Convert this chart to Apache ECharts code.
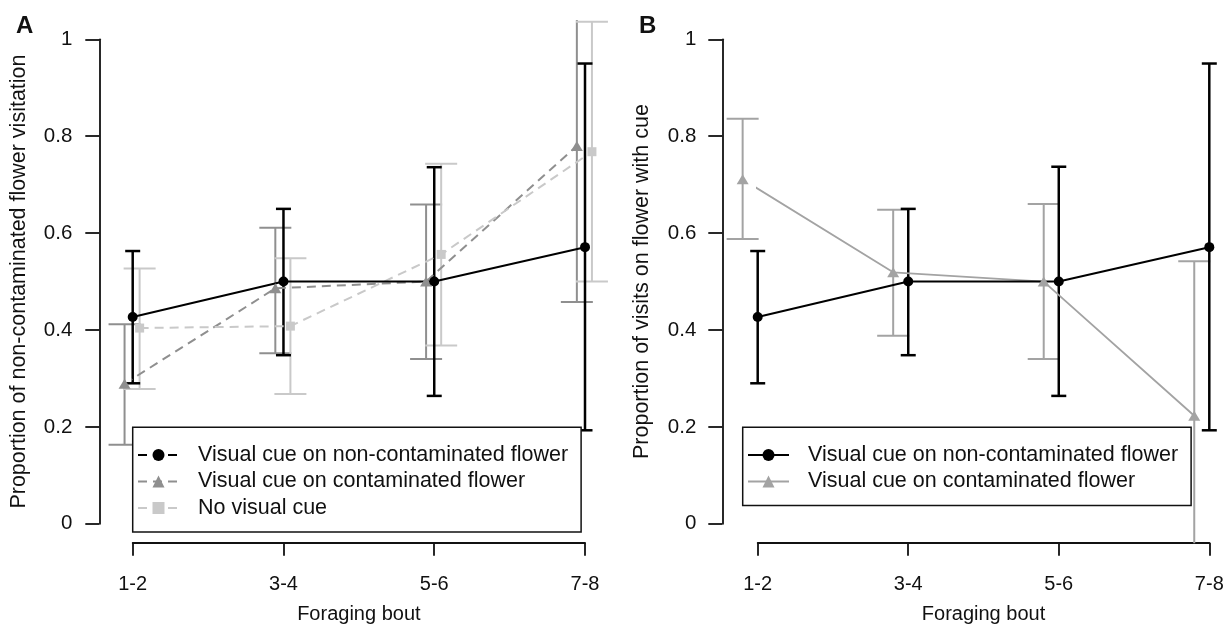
<!DOCTYPE html>
<html>
<head>
<meta charset="utf-8">
<title>Foraging bout</title>
<script src="https://cdn.jsdelivr.net/npm/echarts@6/dist/echarts.min.js"></script>
<style>
  html, body { margin: 0; padding: 0; background: #fff; }
  #chart { width: 1231px; height: 627px; }
</style>
</head>
<body>
<div id="chart"></div>
<script>
// foraging bouts (x axis)
const bouts = ['1-2', '3-4', '5-6', '7-8'];
const yTicks = [0, 0.2, 0.4, 0.6, 0.8, 1];

// panel A: proportion of non-contaminated flower visitation
const aNonContMean = [0.427, 0.500, 0.500, 0.571];
const aNonContLow = [0.290, 0.348, 0.264, 0.193];
const aNonContHigh = [0.563, 0.650, 0.736, 0.950];
const aContMean = [0.289, 0.486, 0.500, 0.780];
const aContLow = [0.163, 0.352, 0.340, 0.458];
const aContHigh = [0.412, 0.611, 0.659, 1.100];
const aNoCueMean = [0.404, 0.408, 0.556, 0.768];
const aNoCueLow = [0.278, 0.268, 0.368, 0.500];
const aNoCueHigh = [0.527, 0.548, 0.743, 1.036];

// panel B: proportion of visits on flower with cue
const bNonContMean = [0.427, 0.500, 0.500, 0.571];
const bNonContLow = [0.290, 0.348, 0.264, 0.193];
const bNonContHigh = [0.563, 0.650, 0.737, 0.950];
const bContMean = [0.711, 0.519, 0.500, 0.223];
const bContLow = [0.588, 0.388, 0.340, -0.096];
const bContHigh = [0.836, 0.648, 0.660, 0.542];

const NONCONT = 'Visual cue on non-contaminated flower';
const CONT = 'Visual cue on contaminated flower';
const NOCUE = 'No visual cue';

// plotting region clips at 4% beyond 0..1 (like R)
const yClip = [-0.04, 1.04];
const font = 'Liberation Sans, Arial, sans-serif';
const ink = '#111';

function meanLine (name, mean, dodge, color, dashed, symbol, size, axis, lw) {
  return {
    type: 'line',
    name: name,
    xAxisIndex: axis,
    yAxisIndex: axis,
    data: mean.map((m, i) => [i + 1 + dodge, m]),
    symbol: symbol,
    symbolSize: size,
    showAllSymbol: true,
    clip: false,
    z: 3,
    lineStyle: { color: color, width: lw, type: dashed ? [9, 6] : 'solid' },
    itemStyle: { color: color },
    emphasis: { disabled: true },
  }
}

function errorBars (low, high, dodge, color, width, cap, axis) {
  return {
    type: 'custom',
    xAxisIndex: axis,
    yAxisIndex: axis,
    clip: false,
    silent: true,
    z: 2,
    data: low.map((l, i) => [i + 1 + dodge, l, high[i]]),
    encode: { x: 0, y: [1, 2] },
    renderItem: (params, api) => {
      const x = api.value(0)
      const lo = api.value(1)
      const hi = api.value(2)
      const p0 = api.coord([x, Math.max(lo, yClip[0])])
      const p1 = api.coord([x, Math.min(hi, yClip[1])])
      const style = { stroke: color, lineWidth: width }
      const children = [{ type: 'line', shape: { x1: p0[0], y1: p0[1], x2: p1[0], y2: p1[1] }, style: style }]
      if (lo >= yClip[0]) {
        children.push({ type: 'line', shape: { x1: p0[0] - cap, y1: p0[1], x2: p0[0] + cap, y2: p0[1] }, style: style })
      }
      if (hi <= yClip[1]) {
        children.push({ type: 'line', shape: { x1: p1[0] - cap, y1: p1[1], x2: p1[0] + cap, y2: p1[1] }, style: style })
      }
      return { type: 'group', children: children }
    },
  }
}

function xAxisFor (grid) {
  return {
    type: 'value',
    gridIndex: grid,
    min: 1,
    max: 4,
    interval: 1,
    offset: 19,
    name: 'Foraging bout',
    nameLocation: 'middle',
    nameGap: 62,
    nameTextStyle: { color: ink, fontSize: 20, fontFamily: font },
    axisLine: { show: true, onZero: false, lineStyle: { color: ink, width: 1.8 } },
    axisTick: { show: true, length: 13, lineStyle: { color: ink, width: 1.8 } },
    axisLabel: {
      margin: 32,
      color: ink,
      fontSize: 20,
      fontFamily: font,
      formatter: (v) => bouts[Math.round(v) - 1],
    },
    splitLine: { show: false },
  }
}

function yAxisFor (grid, offset, name, margin) {
  return {
    type: 'value',
    gridIndex: grid,
    min: yTicks[0],
    max: yTicks[yTicks.length - 1],
    interval: 0.2,
    offset: offset,
    name: name,
    nameLocation: 'middle',
    nameRotate: 90,
    nameGap: 69,
    nameTextStyle: { color: ink, fontSize: 21.5, fontFamily: font },
    axisLine: { show: true, onZero: false, lineStyle: { color: ink, width: 1.8 } },
    axisTick: { show: true, length: 14, lineStyle: { color: ink, width: 1.8 } },
    axisLabel: {
      margin: margin,
      color: ink,
      fontSize: 20.5,
      fontFamily: font,
      formatter: (v) => String(Math.round(v * 10) / 10),
    },
    splitLine: { show: false },
  }
}

function legendFor (left, items) {
  return {
    left: left,
    top: 427.3,
    orient: 'vertical',
    selectedMode: false,
    itemWidth: 41,
    itemHeight: 15,
    itemGap: 4.5,
    padding: [16.7, 13, 13, 4.3],
    borderColor: ink,
    borderWidth: 1.5,
    borderRadius: 0,
    backgroundColor: '#fff',
    textStyle: {
      color: ink,
      fontSize: 21.5,
      fontFamily: font,
      lineHeight: 20,
      padding: [0, 0, 0, 14],
    },
    data: items,
  }
}

const darkGray = '#8f8f8f'
const lightGray = '#c9c9c9'
const midGray = '#a3a3a3'

const myChart = echarts.init(document.getElementById('chart'), null, { renderer: 'canvas' })

const option = {
  animation: false,
  backgroundColor: '#fff',
  title: [
    { text: 'A', left: 11, top: 9, textStyle: { fontSize: 24, fontWeight: 'bold', color: ink, fontFamily: font } },
    { text: 'B', left: 634, top: 9, textStyle: { fontSize: 24, fontWeight: 'bold', color: ink, fontFamily: font } },
  ],
  grid: [
    { left: 132.7, right: 646, top: 39.3, bottom: 103.2, containLabel: false, outerBoundsMode: 'none' },
    { left: 757.7, right: 21.7, top: 39.3, bottom: 103.2, containLabel: false, outerBoundsMode: 'none' },
  ],
  xAxis: [xAxisFor(0), xAxisFor(1)],
  yAxis: [
    yAxisFor(0, 33.4, 'Proportion of non-contaminated flower visitation', 27),
    yAxisFor(1, 35.4, 'Proportion of visits on flower with cue', 26),
  ],
  legend: [
    legendFor(132.7, [
      { name: NONCONT, lineStyle: { type: [9, 6] } },
      { name: CONT },
      { name: NOCUE },
    ]),
    legendFor(742.7, [
      { name: NONCONT, lineStyle: { type: 'solid' } },
      { name: CONT, lineStyle: { type: 'solid', color: midGray }, itemStyle: { color: midGray } },
    ]),
  ],
  series: [
    // panel A
    meanLine(CONT, aContMean, -0.054, darkGray, true, 'triangle', [12, 10], 0, 2),
    meanLine(NOCUE, aNoCueMean, 0.046, lightGray, true, 'rect', 9, 0, 2),
    meanLine(NONCONT, aNonContMean, 0, '#000', false, 'circle', 10, 0, 2),
    errorBars(aContLow, aContHigh, -0.054, darkGray, 2, 16, 0),
    errorBars(aNoCueLow, aNoCueHigh, 0.046, lightGray, 2, 16, 0),
    errorBars(aNonContLow, aNonContHigh, 0, '#000', 2.5, 7.5, 0),
    // panel B
    meanLine(CONT, bContMean, -0.1, midGray, false, 'triangle', [12, 10], 1, 1.8),
    meanLine(NONCONT, bNonContMean, 0, '#000', false, 'circle', 10, 1, 2),
    errorBars(bContLow, bContHigh, -0.1, midGray, 2, 16, 1),
    errorBars(bNonContLow, bNonContHigh, 0, '#000', 2.5, 7.5, 1),
  ],
}

option && myChart.setOption(option)
window.addEventListener('resize', () => {
  myChart.resize()
})
</script>
</body>
</html>
